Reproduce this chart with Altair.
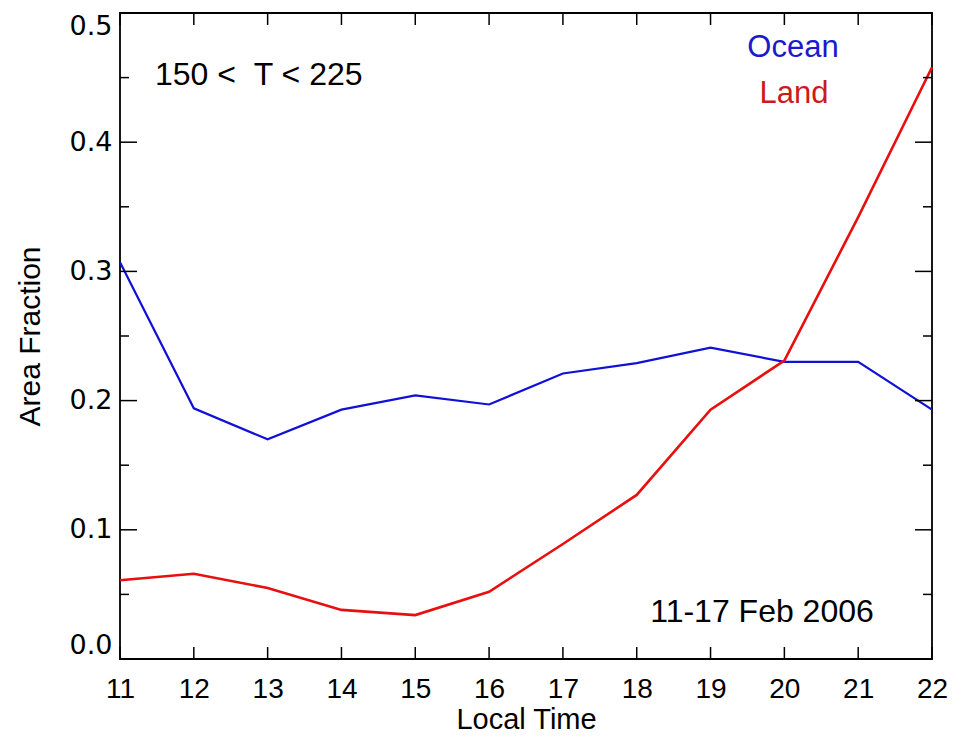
import altair as alt
import pandas as pd

hours = [11, 12, 13, 14, 15, 16, 17, 18, 19, 20, 21, 22]
ocean = [0.307, 0.194, 0.170, 0.193, 0.204, 0.197, 0.221, 0.229, 0.241, 0.230, 0.230, 0.193]
land = [0.061, 0.066, 0.055, 0.038, 0.034, 0.052, 0.089, 0.127, 0.193, 0.231, 0.342, 0.458]

x_ticks = [11, 12, 13, 14, 15, 16, 17, 18, 19, 20, 21, 22]
y_major = [0.0, 0.1, 0.2, 0.3, 0.4, 0.5]
y_minor = [0.05, 0.15, 0.25, 0.35, 0.45]

label_range = "150 <\u00a0\u00a0T < 225"
label_ocean = "Ocean"
label_land = "Land"
label_date = "11-17 Feb 2006"

W, H = 812, 646
FONT = "Liberation Sans, Arial, Helvetica, sans-serif"
YFONT = "DejaVu Sans, Liberation Sans, sans-serif"
BLUE = "#1010d6"
RED = "#e80f0f"

df = pd.DataFrame({
    "hour": hours * 2,
    "frac": ocean + land,
    "series": ["Ocean"] * len(hours) + ["Land"] * len(hours),
})

xscale = alt.Scale(domain=[11, 22], nice=False, zero=False)
yscale = alt.Scale(domain=[0, 0.5], nice=False)

xaxis = alt.Axis(values=x_ticks, format="d", ticks=False, domain=False, grid=False,
                 labelFontSize=28, labelFont=FONT, labelColor="black", labelPadding=16,
                 labelFlush=False, labelOverlap=False,
                 title="Local Time", titleFontSize=29, titleFont=FONT, titleFontWeight="normal",
                 titleColor="black", titleY=69, titleBaseline="alphabetic")
yaxis = alt.Axis(values=y_major, format=".1f", ticks=False, domain=False, grid=False,
                 labelFontSize=27, labelFont=YFONT, labelColor="black", labelPadding=8,
                 labelFlush=True, labelOverlap=False,
                 title="Area Fraction", titleFontSize=30, titleFont=FONT, titleFontWeight="normal",
                 titleColor="black", titleAngle=270, titleX=-81, titleY=H / 2,
                 titleAlign="center", titleBaseline="alphabetic")


def X(f):
    return alt.X(f, scale=xscale, axis=xaxis)


def Y(f):
    return alt.Y(f, scale=yscale, axis=yaxis)


base = alt.Chart(df)
ocean_line = base.transform_filter(alt.datum.series == "Ocean").mark_line(
    color=BLUE, strokeWidth=2.2).encode(x=X("hour:Q"), y=Y("frac:Q"))
land_line = base.transform_filter(alt.datum.series == "Land").mark_line(
    color=RED, strokeWidth=2.6).encode(x=X("hour:Q"), y=Y("frac:Q"))

xt = alt.Chart(pd.DataFrame({"h": x_ticks}))
ymj = alt.Chart(pd.DataFrame({"v": y_major}))
ymn = alt.Chart(pd.DataFrame({"v": y_minor}))
rule = dict(color="black", strokeWidth=1.5)

ticks = [
    xt.mark_rule(**rule).encode(x=X("h:Q"), y=alt.value(H), y2=alt.value(H - 12)),
    xt.mark_rule(**rule).encode(x=X("h:Q"), y=alt.value(0), y2=alt.value(12)),
    ymj.mark_rule(**rule).encode(y=Y("v:Q"), x=alt.value(0), x2=alt.value(17)),
    ymj.mark_rule(**rule).encode(y=Y("v:Q"), x=alt.value(W - 17), x2=alt.value(W)),
    ymn.mark_rule(**rule).encode(y=Y("v:Q"), x=alt.value(0), x2=alt.value(9)),
    ymn.mark_rule(**rule).encode(y=Y("v:Q"), x=alt.value(W - 9), x2=alt.value(W)),
]


def note(txt, x, y, color, size, align="center"):
    return alt.Chart(pd.DataFrame({"t": [txt]})).mark_text(
        font=FONT, fontSize=size, color=color, align=align, baseline="middle").encode(
        text="t:N", x=alt.value(x), y=alt.value(y))


notes = [
    note(label_range, 35, 62, "black", 32, "left"),
    note(label_ocean, 673, 35, "#1a1acc", 31),
    note(label_land, 674, 81, "#cc1a1a", 31),
    note(label_date, 642, 599, "black", 32),
]

chart = alt.layer(ocean_line, land_line, *ticks, *notes).properties(
    width=W, height=H,
    background="white",
    autosize=alt.AutoSizeParams(type="none"),
    padding={"left": 112, "top": 5, "right": 16, "bottom": 75},
).configure_view(stroke="black", strokeWidth=1.8)

chart.save("out.html", embed_options={"renderer": "svg", "actions": False})
